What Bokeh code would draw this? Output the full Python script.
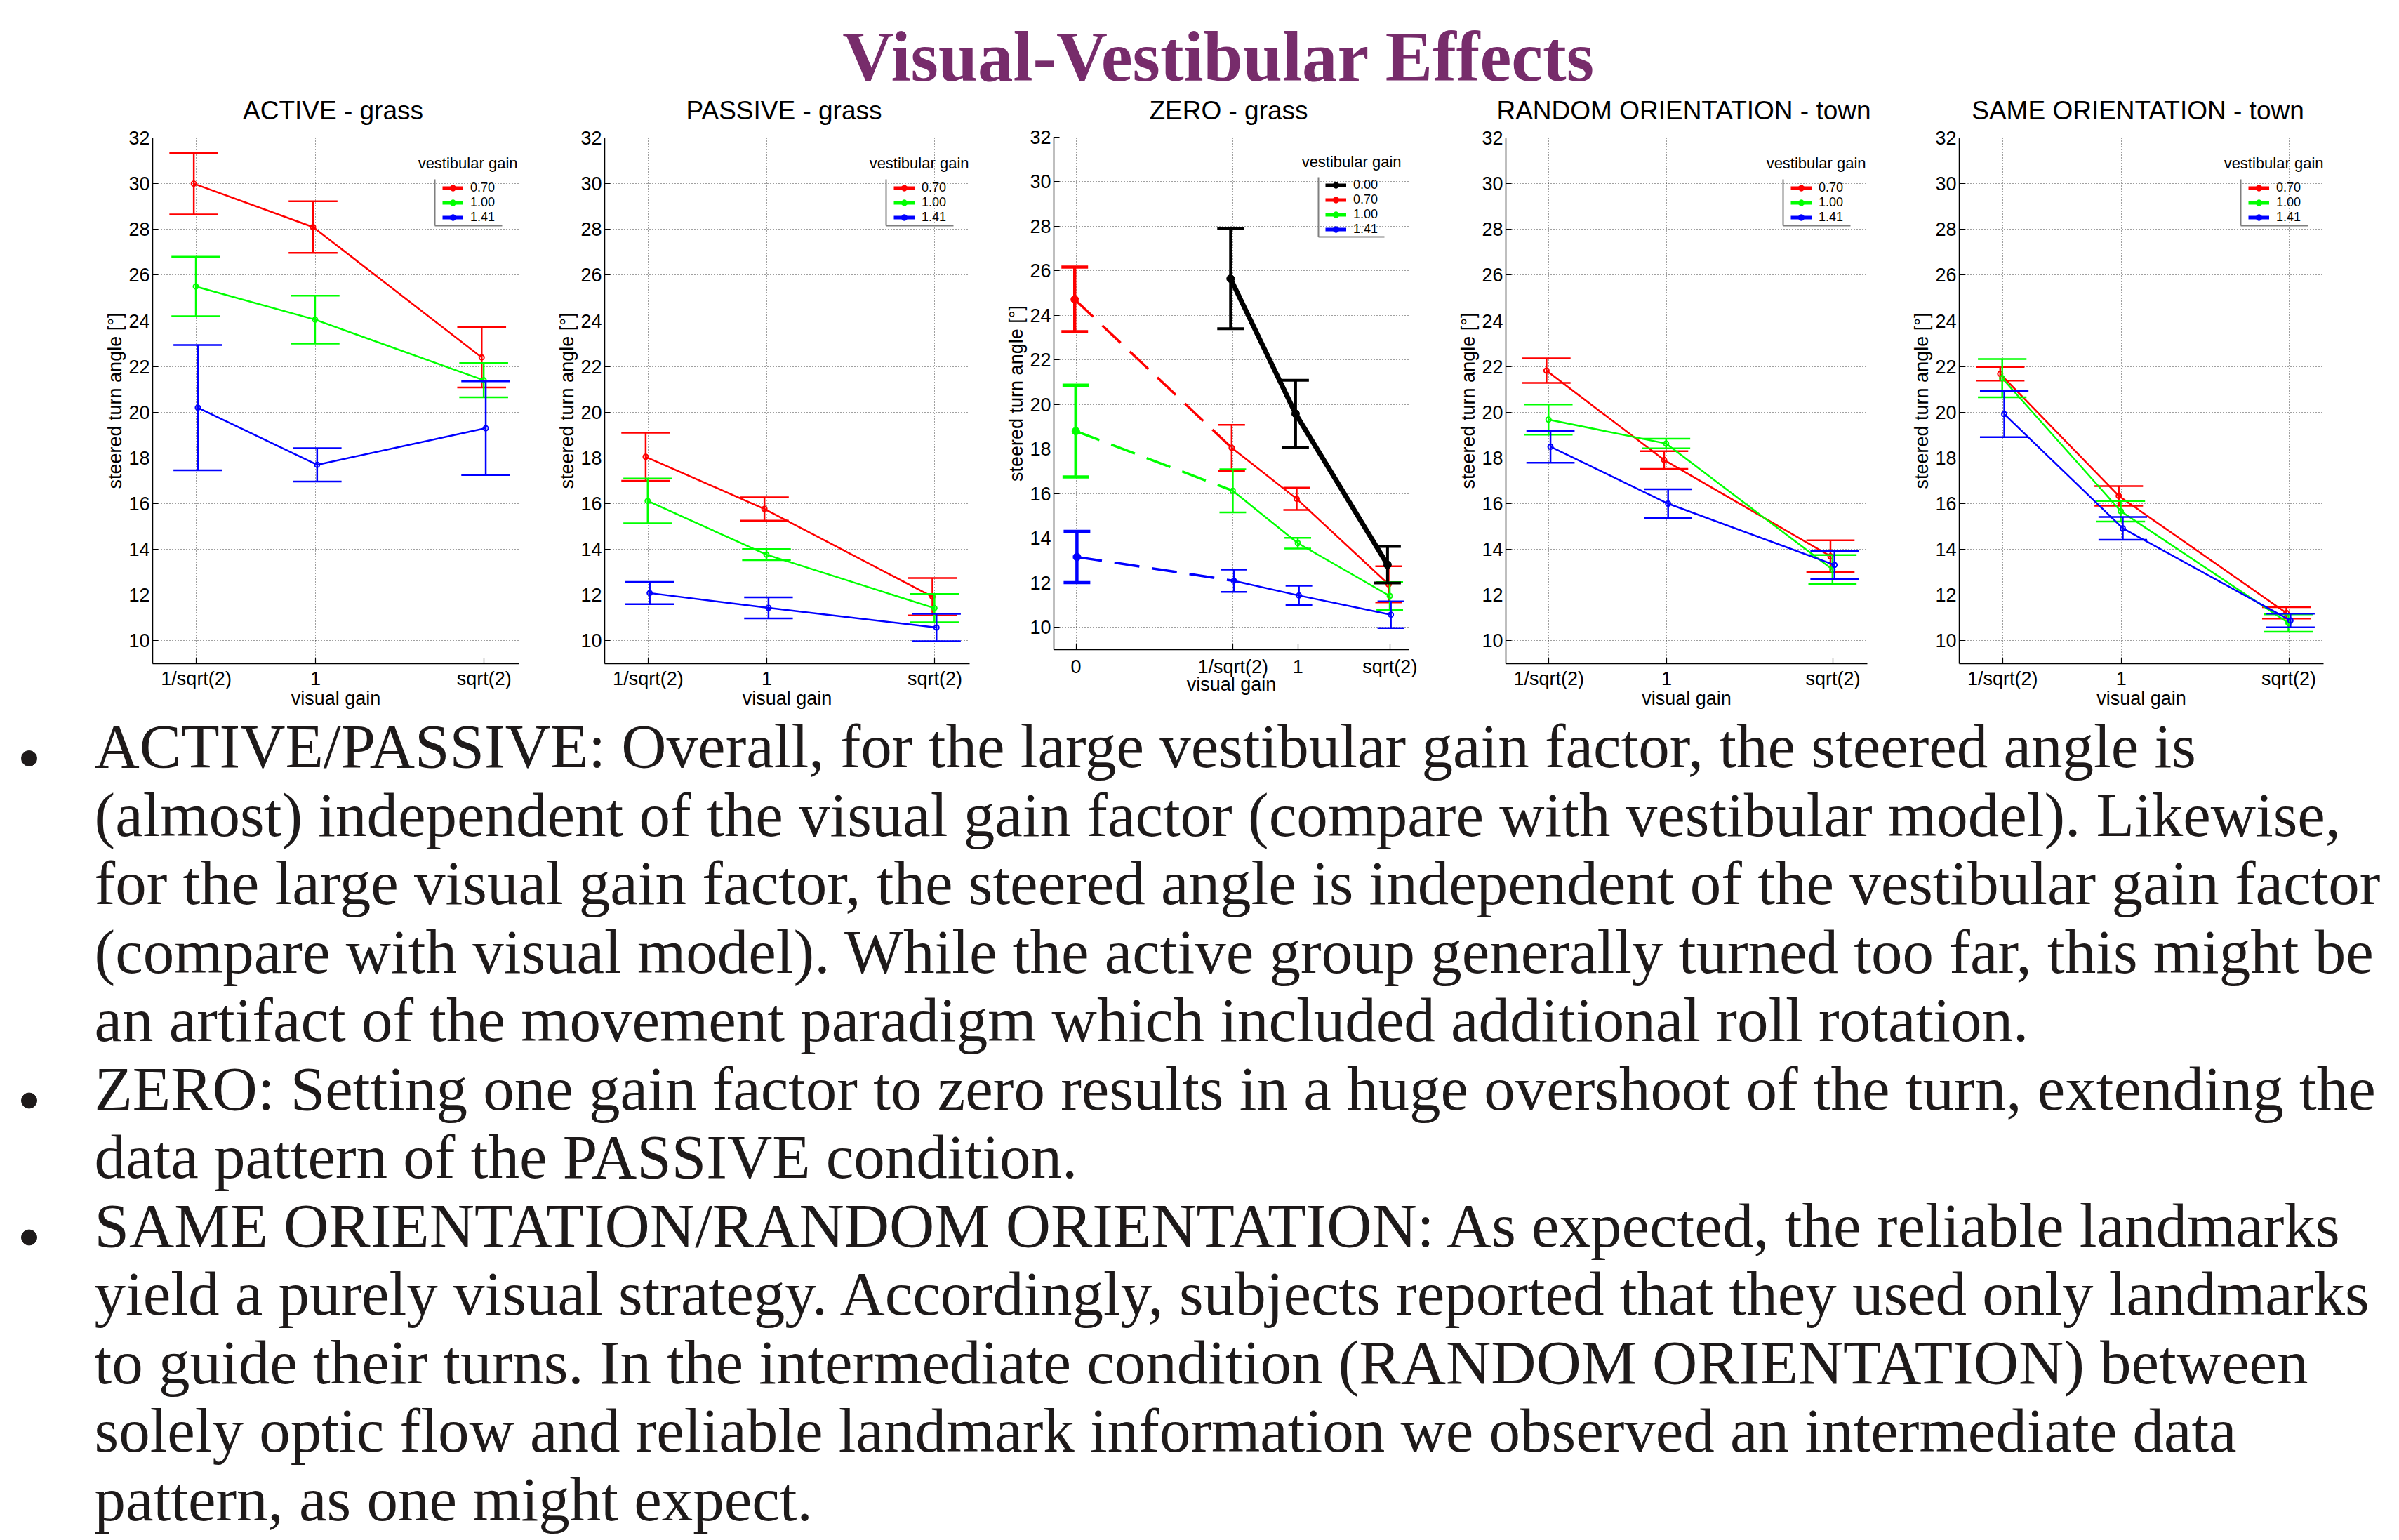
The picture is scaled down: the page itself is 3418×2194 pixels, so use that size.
import math
from bokeh.plotting import figure
from bokeh.models import Range1d, FixedTicker, Label, Legend, LegendItem, Arrow
from bokeh.layouts import column, row
from bokeh.embed import file_html
from bokeh.resources import INLINE
from bokeh.core.properties import value

R2 = math.sqrt(2.0)
NAN = float("nan")

# ------------------------------------------------------------------ data
visual_gain = [1 / R2, 1.0, R2]
visual_gain_zero = [0.0, 1 / R2, 1.0, R2]
visual_gain_black = [1 / R2, 1.0, R2]
tick_values = [0.7071, 1, 1.4142]
tick_values_zero = [0, 0.7071, 1, 1.4142]
tick_labels = ["1/sqrt(2)", "1", "sqrt(2)"]
tick_labels_zero = ["0", "1/sqrt(2)", "1", "sqrt(2)"]
y_ticks = [10, 12, 14, 16, 18, 20, 22, 24, 26, 28, 30, 32]
vestibular_labels = ["0.70", "1.00", "1.41"]
vestibular_labels_zero = ["0.00", "0.70", "1.00", "1.41"]
panel_titles = ["ACTIVE - grass", "PASSIVE - grass", "ZERO - grass",
                "RANDOM ORIENTATION - town", "SAME ORIENTATION - town"]

active_070 = [30.0, 28.1, 22.4]
active_070_err = [1.35, 1.13, 1.32]
active_100 = [25.5, 24.05, 21.4]
active_100_err = [1.3, 1.05, 0.75]
active_141 = [20.2, 17.7, 19.3]
active_141_err = [2.74, 0.73, 2.05]

passive_070 = [18.05, 15.77, 11.93]
passive_070_err = [1.05, 0.51, 0.82]
passive_100 = [16.12, 13.77, 11.43]
passive_100_err = [0.98, 0.24, 0.62]
passive_141 = [12.09, 11.44, 10.58]
passive_141_err = [0.49, 0.46, 0.6]

zero_000 = [25.65, 19.59, 12.81]
zero_000_err = [2.24, 1.5, 0.82]
zero_070 = [24.72, 18.06, 15.77, 11.93]
zero_070_err = [1.45, 1.03, 0.5, 0.81]
zero_100 = [18.81, 16.13, 13.78, 11.41]
zero_100_err = [2.06, 0.97, 0.24, 0.62]
zero_141 = [13.16, 12.09, 11.43, 10.57]
zero_141_err = [1.15, 0.5, 0.44, 0.6]

random_070 = [21.82, 17.91, 13.7]
random_070_err = [0.54, 0.39, 0.7]
random_100 = [19.68, 18.63, 13.12]
random_100_err = [0.66, 0.21, 0.63]
random_141 = [18.49, 16.0, 13.32]
random_141_err = [0.7, 0.63, 0.62]

same_070 = [21.68, 16.34, 11.22]
same_070_err = [0.3, 0.43, 0.25]
same_100 = [21.49, 15.67, 10.78]
same_100_err = [0.84, 0.45, 0.38]
same_141 = [19.92, 14.92, 10.89]
same_141_err = [1.01, 0.5, 0.3]

title_text = "Visual-Vestibular Effects"
body_paragraphs = [
    ["ACTIVE/PASSIVE: Overall, for the large vestibular gain factor, the steered angle is",
     "(almost) independent of the visual gain factor (compare with vestibular model). Likewise,",
     "for the large visual gain factor, the steered angle is independent of the vestibular gain factor",
     "(compare with visual model). While the active group generally turned too far, this might be",
     "an artifact of the movement paradigm which included additional roll rotation."],
    ["ZERO: Setting one gain factor to zero results in a huge overshoot of the turn, extending the",
     "data pattern of the PASSIVE condition."],
    ["SAME ORIENTATION/RANDOM ORIENTATION: As expected, the reliable landmarks",
     "yield a purely visual strategy. Accordingly, subjects reported that they used only landmarks",
     "to guide their turns. In the intermediate condition (RANDOM ORIENTATION) between",
     "solely optic flow and reliable landmark information we observed an intermediate data",
     "pattern, as one might expect."],
]

# ------------------------------------------------------------------ style / layout
COLORS = {"0.00": "#000000", "0.70": "#ff0000", "1.00": "#00ff00", "1.41": "#0000ff"}
DODGE = {"0.00": -0.011, "0.70": -0.006, "1.00": -0.001, "1.41": 0.004}
CAP = 0.06
FONT = "Liberation Sans"
SERIF = "Liberation Serif"
BASE_SHIFT = 0.328  # em: offset between requested and drawn alphabetic baseline

TOTAL_W = 3410
TOP_H = 178
ROW_H = 834
TEXT_H = 1178
PANEL_W = [790, 640, 640, 650, 690]
BORDER_L = [217, 70, 71, 75, 69]
BORDER_R = [51, 49, 63, 60, 100]


def errorbars(p, xd, ys, err, color, width):
    lo = [y - e for y, e in zip(ys, err)]
    hi = [y + e for y, e in zip(ys, err)]
    cl = [x - CAP for x in xd]
    cr = [x + CAP for x in xd]
    p.segment(xd, lo, xd, hi, line_color=color, line_width=width)
    p.segment(cl, hi, cr, hi, line_color=color, line_width=width)
    p.segment(cl, lo, cr, lo, line_color=color, line_width=width)


def plain_series(p, label, xs, ys, err):
    c = COLORS[label]
    xd = [x + DODGE[label] for x in xs]
    p.line(xd, ys, line_color=c, line_width=2.5)
    errorbars(p, xd, ys, err, c, 2.5)
    p.scatter(xd, ys, marker="circle", size=7, line_color=c, fill_color=None, line_width=2)


def zero_series(p, label, xs, ys, err):
    c = COLORS[label]
    xd = [x + DODGE[label] for x in xs]
    p.line(xd[:2], ys[:2], line_color=c, line_width=3.5, line_dash="36 18")
    p.line(xd[1:], ys[1:], line_color=c, line_width=2.5)
    errorbars(p, xd[:1], ys[:1], err[:1], c, 4.5)
    errorbars(p, xd[1:], ys[1:], err[1:], c, 2.5)
    p.scatter(xd[:1], ys[:1], marker="circle", size=11, line_color=c, fill_color=c)
    p.scatter(xd[1:], ys[1:], marker="circle", size=7, line_color=c, fill_color=None, line_width=2)


def black_series(p, label, xs, ys, err):
    c = COLORS[label]
    xd = [x + DODGE[label] for x in xs]
    p.line(xd, ys, line_color=c, line_width=7)
    errorbars(p, xd, ys, err, c, 4)
    p.scatter(xd, ys, marker="circle", size=11, line_color=c, fill_color=c)


def make_panel(i, xr, ticks, tlabels, bt, bb, leg_labels, leg_cfg, draw):
    W, L, R = PANEL_W[i], BORDER_L[i], BORDER_R[i]
    fw = W - L - R
    fh = ROW_H - bt - bb
    p = figure(width=W, height=ROW_H, x_range=Range1d(*xr), y_range=Range1d(9, 32),
               output_backend="svg", toolbar_location=None, frame_align=False, title=None,
               min_border_left=L, min_border_right=R, min_border_top=bt, min_border_bottom=bb)
    p.outline_line_color = None
    p.background_fill_color = "white"
    p.border_fill_color = "white"

    p.xaxis.ticker = FixedTicker(ticks=ticks)
    p.xaxis.major_label_overrides = {t: lab for t, lab in zip(ticks, tlabels)}
    p.yaxis.ticker = FixedTicker(ticks=y_ticks)
    for ax in (p.xaxis, p.yaxis):
        ax.axis_line_color = "black"
        ax.axis_line_width = 1.5
        ax.major_tick_in = 8
        ax.major_tick_out = 0
        ax.major_tick_line_color = "black"
        ax.major_tick_line_width = 1.2
        ax.minor_tick_line_color = None
        ax.major_label_text_font = FONT
        ax.major_label_text_font_size = "27px"
        ax.major_label_text_color = "black"
        ax.axis_label_text_font = FONT
        ax.axis_label_text_font_size = "27px"
        ax.axis_label_text_font_style = "normal"
        ax.axis_label_text_color = "black"
    p.xaxis.axis_label = "visual gain"
    p.yaxis.axis_label = "steered turn angle [°]"
    p.xaxis.major_label_standoff = 6 if bb < 80 else 9
    p.xaxis.axis_label_standoff = -5 if bb < 80 else -8
    p.yaxis.major_label_standoff = 4
    p.yaxis.axis_label_standoff = 1

    p.grid.grid_line_color = "black"
    p.grid.grid_line_alpha = 0.75
    p.grid.grid_line_width = 1
    p.grid.grid_line_dash = "1 3"

    draw(p)

    # legend
    glyph_off, row1, title_dx, title_dy, box_l, box_top, box_bot, box_r = leg_cfg
    items = []
    for lab in leg_labels:
        c = COLORS[lab]
        lr = p.line(x=[NAN], y=[NAN], line_color=c, line_width=5)
        sr = p.scatter(x=[NAN], y=[NAN], marker="circle", size=10, line_color=c, fill_color=c)
        items.append(LegendItem(label=lab, renderers=[lr, sr]))
    n = len(leg_labels)
    legend = Legend(items=items, location=(fw - glyph_off, fh - (row1 - 10.5) - 21 * n),
                    orientation="vertical", padding=0, margin=0, spacing=0,
                    glyph_width=30, glyph_height=21, label_height=21, label_standoff=10,
                    label_text_font=FONT, label_text_font_size="18px", label_text_color="black",
                    border_line_color=None, background_fill_alpha=0)
    p.add_layout(legend)
    p.add_layout(Label(x=fw + title_dx, y=fh - title_dy + BASE_SHIFT * 22, x_units="screen",
                       y_units="screen", text="vestibular gain", text_align="right",
                       text_baseline="alphabetic", text_font=FONT, text_font_size="22px",
                       text_color="black"))
    p.add_layout(Arrow(end=None, x_start=fw - box_l, y_start=fh - box_top, x_end=fw - box_l,
                       y_end=fh - box_bot, start_units="screen", end_units="screen",
                       line_color="#7f7f7f", line_width=2))
    p.add_layout(Arrow(end=None, x_start=fw - box_l, y_start=fh - box_bot, x_end=fw - box_r,
                       y_end=fh - box_bot, start_units="screen", end_units="screen",
                       line_color="#7f7f7f", line_width=2))
    return p


LEG3 = (109, 74.4, -2, 46, 120, 62, 128, 24)
LEG4 = (119, 68, -11, 42, 129, 57, 142, 35)


def d_active(p):
    plain_series(p, "0.70", visual_gain, active_070, active_070_err)
    plain_series(p, "1.00", visual_gain, active_100, active_100_err)
    plain_series(p, "1.41", visual_gain, active_141, active_141_err)


def d_passive(p):
    plain_series(p, "0.70", visual_gain, passive_070, passive_070_err)
    plain_series(p, "1.00", visual_gain, passive_100, passive_100_err)
    plain_series(p, "1.41", visual_gain, passive_141, passive_141_err)


def d_zero(p):
    zero_series(p, "0.70", visual_gain_zero, zero_070, zero_070_err)
    zero_series(p, "1.00", visual_gain_zero, zero_100, zero_100_err)
    zero_series(p, "1.41", visual_gain_zero, zero_141, zero_141_err)
    black_series(p, "0.00", visual_gain_black, zero_000, zero_000_err)


def d_random(p):
    plain_series(p, "0.70", visual_gain, random_070, random_070_err)
    plain_series(p, "1.00", visual_gain, random_100, random_100_err)
    plain_series(p, "1.41", visual_gain, random_141, random_141_err)


def d_same(p):
    plain_series(p, "0.70", visual_gain, same_070, same_070_err)
    plain_series(p, "1.00", visual_gain, same_100, same_100_err)
    plain_series(p, "1.41", visual_gain, same_141, same_141_err)


p1 = make_panel(0, (0.6, 1.5), tick_values, tick_labels, 18, 64, vestibular_labels, LEG3, d_active)
p2 = make_panel(1, (0.6, 1.5), tick_values, tick_labels, 18, 64, vestibular_labels, LEG3, d_passive)
p3 = make_panel(2, (-0.1, 1.5), tick_values_zero, tick_labels_zero, 17, 87,
                vestibular_labels_zero, LEG4, d_zero)
p4 = make_panel(3, (0.6, 1.5), tick_values, tick_labels, 18, 64, vestibular_labels, LEG3, d_random)
p5 = make_panel(4, (0.6, 1.5), tick_values, tick_labels, 18, 64, vestibular_labels, LEG3, d_same)


def text_figure(h):
    f = figure(width=TOTAL_W, height=h, x_range=Range1d(0, TOTAL_W), y_range=Range1d(h, 0),
               output_backend="svg", toolbar_location=None, min_border=0, frame_align=False,
               x_axis_location=None, y_axis_location=None, title=None)
    f.grid.visible = False
    f.outline_line_color = None
    return f


# top strip: main title + the five panel titles
# (101px: a "bold 100px" font string trips the SVG font parser, so avoid it)
tf = text_figure(TOP_H)
tf.text(x=[1736], y=[114 - BASE_SHIFT * 101], text=[title_text], text_font=value(SERIF),
        text_font_size="101px", text_font_style="bold", text_color="#772c6b",
        text_align="center", text_baseline="alphabetic")
centers, x0 = [], 0
for W, L, R in zip(PANEL_W, BORDER_L, BORDER_R):
    centers.append(x0 + L + (W - L - R) / 2 - 4)
    x0 += W
tf.text(x=centers, y=[169.5 - BASE_SHIFT * 37] * len(centers), text=panel_titles,
        text_font=value(FONT), text_font_size="37px", text_color="black",
        text_align="center", text_baseline="alphabetic")

# bullet text
bf = text_figure(TEXT_H)
lines, bullet_rows = [], []
for para in body_paragraphs:
    bullet_rows.append(len(lines))
    lines.extend(para)
base0, pitch = 80.0, 97.5
baselines = [base0 + k * pitch for k in range(len(lines))]
bf.text(x=[134] * len(lines), y=[b - BASE_SHIFT * 89 for b in baselines], text=lines,
        text_font=value(SERIF), text_font_size="89px",
        text_color="#1e1a1a", text_align="left", text_baseline="alphabetic")
bf.scatter(x=[41] * len(bullet_rows), y=[baselines[k] - 12 for k in bullet_rows],
           marker="circle", size=22, fill_color="#1e1a1a", line_color="#1e1a1a")

layout = column(tf, row(p1, p2, p3, p4, p5), bf)
open("out.html", "w").write(file_html(layout, INLINE))
